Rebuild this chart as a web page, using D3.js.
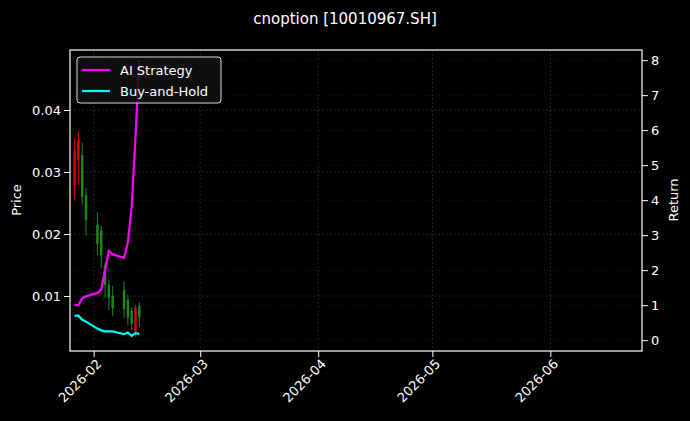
<!DOCTYPE html>
<html><head><meta charset="utf-8">
<script src="https://cdn.jsdelivr.net/npm/d3@7"></script>
<style>body{margin:0;background:#000}text{font-family:"DejaVu Sans",sans-serif}</style>
</head><body><svg id="c" width="690" height="421"></svg>
<script>
const dates=["2026-01-27","2026-01-28","2026-01-29","2026-01-30","2026-02-02","2026-02-03","2026-02-04","2026-02-05","2026-02-06","2026-02-09","2026-02-10","2026-02-11","2026-02-12","2026-02-13"];
const opens=[.0279,.0320,.0327,.0263,.0215,.0206,.0150,.0118,.0100,.0110,.0094,.0076,.0042,.0084];
const highs=[.0355,.0366,.0347,.0274,.0235,.0213,.0153,.0126,.0116,.0123,.0102,.0082,.0085,.0090];
const lows=[.0255,.0279,.0247,.0198,.0166,.0145,.0097,.0077,.0068,.0065,.0053,.0045,.0034,.0050];
const closes=[.0335,.0352,.0260,.0223,.0184,.0166,.0118,.0097,.0080,.0079,.0065,.0055,.0082,.0066];
const aiReturn=[1.0,1.0,1.2,1.25,1.35,1.45,2.0,2.55,2.45,2.35,2.8,3.8,5.8,8.0];
const bhReturn=[.7,.7,.58,.53,.33,.28,.25,.25,.25,.17,.22,.12,.2,.18];
const priceTicks=[0.01,0.02,0.03,0.04];
const returnTicks=[0,1,2,3,4,5,6,7,8];
const monthTicks=["2026-02-01","2026-03-01","2026-04-01","2026-05-01","2026-06-01"];

const svg=d3.select("#c");
const L=70,R=642,T=50,B=351;
const p=d3.timeParse("%Y-%m-%d");
const x=d3.scaleTime().domain([d3.timeHour.offset(p("2026-02-01"),-24*6.2),d3.timeHour.offset(p("2026-06-01"),24*24.1)]).range([L,R]);
const y=d3.scaleLinear().domain([0.00113,0.04968]).range([B,T]);
const y2=d3.scaleLinear().domain([-0.31,8.29]).range([B,T]);
const g=svg.append("g");
const mt=monthTicks.map(p);
g.selectAll(".gx").data(mt).enter().append("line").attr("x1",d=>x(d)).attr("x2",d=>x(d)).attr("y1",T).attr("y2",B).attr("stroke","#3a3a3a").attr("stroke-dasharray","2,2").attr("stroke-width",0.6);
g.selectAll(".gy").data(priceTicks).enter().append("line").attr("x1",L).attr("x2",R).attr("y1",d=>y(d)).attr("y2",d=>y(d)).attr("stroke","#3a3a3a").attr("stroke-dasharray","2,2").attr("stroke-width",0.6);
g.selectAll(".gy2").data(returnTicks).enter().append("line").attr("x1",L).attr("x2",R).attr("y1",d=>y2(d)).attr("y2",d=>y2(d)).attr("stroke","#2e2e2e").attr("stroke-dasharray","1,2").attr("stroke-width",0.6);
const cd=dates.map((d,i)=>({d:p(d),o:opens[i],h:highs[i],l:lows[i],c:closes[i]}));
const col=d=>d.c>=d.o?"#e00000":"#1a8a1a";
g.selectAll(".w").data(cd).enter().append("line").attr("x1",d=>x(d.d)).attr("x2",d=>x(d.d)).attr("y1",d=>y(d.h)).attr("y2",d=>y(d.l)).attr("stroke",col).attr("stroke-width",1);
g.selectAll(".b").data(cd).enter().append("rect").attr("x",d=>x(d.d)-1.2).attr("width",2.4).attr("y",d=>y(Math.max(d.o,d.c))).attr("height",d=>Math.abs(y(d.o)-y(d.c))).attr("fill",col);
const ln=v=>d3.line().x((d,i)=>x(p(dates[i]))).y(d=>y2(d))(v);
g.append("path").attr("d",ln(aiReturn)).attr("fill","none").attr("stroke","#ff00ff").attr("stroke-width",2.2);
g.append("path").attr("d",ln(bhReturn)).attr("fill","none").attr("stroke","#00ffff").attr("stroke-width",2.2);
g.append("rect").attr("x",L).attr("y",T).attr("width",R-L).attr("height",B-T).attr("fill","none").attr("stroke","#fff").attr("stroke-width",1.2);
const ax=svg.append("g").attr("transform",`translate(0,${B})`).call(d3.axisBottom(x).tickValues(mt).tickFormat(d3.timeFormat("%Y-%m")).tickSizeOuter(0));
ax.selectAll("text").attr("transform","rotate(-45)").style("text-anchor","end").attr("dx","-0.3em").attr("dy","0.5em");
const al=svg.append("g").attr("transform",`translate(${L},0)`).call(d3.axisLeft(y).tickValues(priceTicks).tickFormat(d3.format(".2f")).tickSizeOuter(0));
const ar=svg.append("g").attr("transform",`translate(${R},0)`).call(d3.axisRight(y2).tickValues(returnTicks).tickSizeOuter(0));
[ax,al,ar].forEach(a=>{a.select(".domain").remove();a.selectAll("line").attr("stroke","#fff");a.selectAll("text").attr("fill","#fff").style("font-size","13px").style("font-family","DejaVu Sans");});
svg.append("text").attr("x",345).attr("y",24).attr("text-anchor","middle").attr("fill","#fff").style("font-size","15px").text("cnoption [10010967.SH]");
svg.append("text").attr("transform","translate(21,200) rotate(-90)").attr("text-anchor","middle").attr("fill","#fff").style("font-size","13px").text("Price");
svg.append("text").attr("transform","translate(678,200) rotate(-90)").attr("text-anchor","middle").attr("fill","#fff").style("font-size","13px").text("Return");
const lg=svg.append("g");
lg.append("rect").attr("x",77).attr("y",57).attr("width",144).attr("height",46).attr("rx",3).attr("fill","#111").attr("fill-opacity",0.85).attr("stroke","#ddd");
[["AI Strategy","#ff00ff"],["Buy-and-Hold","#00ffff"]].forEach((e,i)=>{const yy=70+i*21;
lg.append("line").attr("x1",82).attr("x2",110).attr("y1",yy).attr("y2",yy).attr("stroke",e[1]).attr("stroke-width",2.2);
lg.append("text").attr("x",120).attr("y",yy+4.5).attr("fill","#fff").style("font-size","13px").text(e[0]);});
</script></body></html>
